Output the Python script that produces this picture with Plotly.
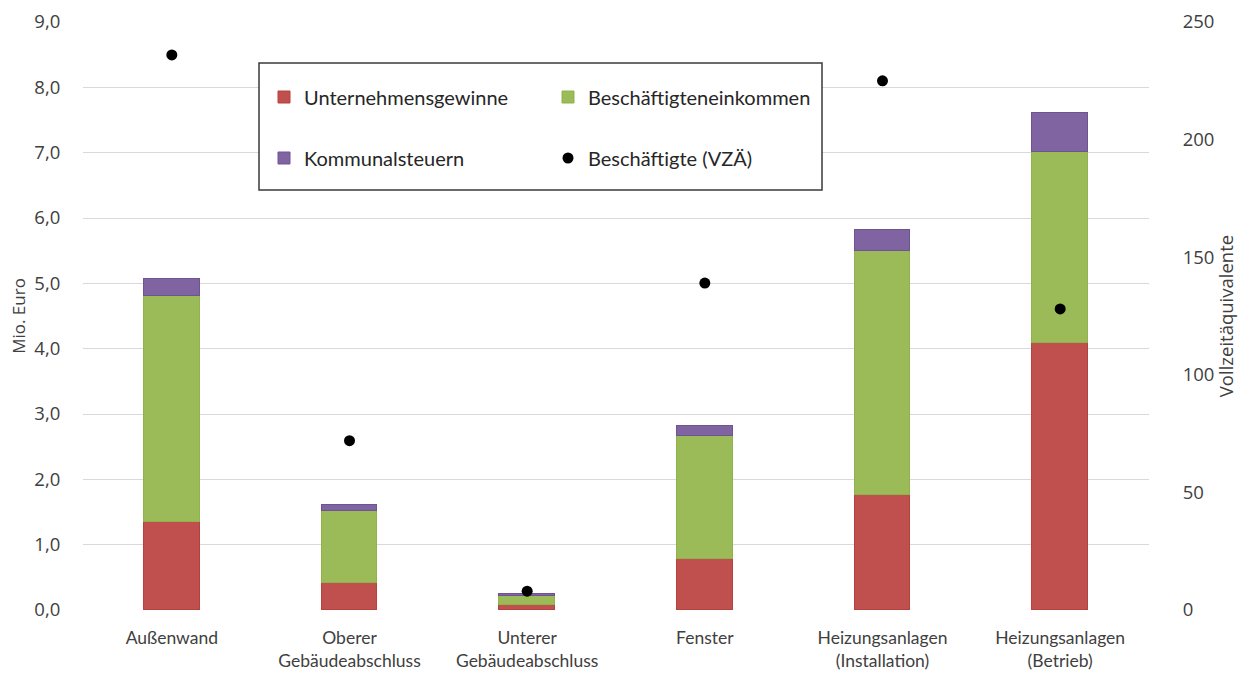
import plotly.graph_objects as go

# Maßnahmenbereiche (x-Achse)
categories = [
    "Außenwand",
    "Oberer<br>Gebäudeabschluss",
    "Unterer<br>Gebäudeabschluss",
    "Fenster",
    "Heizungsanlagen<br>(Installation)",
    "Heizungsanlagen<br>(Betrieb)",
]

# Wertschöpfungsanteile in Mio. Euro (gestapelt)
unternehmensgewinne = [1.34, 0.42, 0.07, 0.78, 1.76, 4.08]
beschaeftigteneinkommen = [3.47, 1.10, 0.14, 1.88, 3.73, 2.93]
kommunalsteuern = [0.26, 0.09, 0.03, 0.16, 0.32, 0.60]

# Beschäftigte in Vollzeitäquivalenten (rechte Achse)
beschaeftigte_vza = [236, 72, 8, 139, 225, 128]

left_ticks = [0, 1, 2, 3, 4, 5, 6, 7, 8, 9]
right_ticks = [0, 50, 100, 150, 200, 250]

W, H = 1238, 677
L, R, T, B = 83, 89, 22, 67

TICK_FONT = dict(family="Open Sans", size=18.5, color="#404040")
TITLE_FONT = dict(family="Open Sans", size=17, color="#404040")
RTITLE_FONT = dict(family="Open Sans", size=18.5, color="#404040")
CAT_FONT = dict(family="Lato", size=17.5, color="#404040")
LEG_FONT = dict(family="Lato", size=20, color="#262626")

BAR_W = 0.315

fig = go.Figure()

fig.add_trace(go.Bar(
    x=categories, y=unternehmensgewinne, name="Unternehmensgewinne",
    width=BAR_W, marker=dict(color="#C0504D", line=dict(color="#B8403D", width=1)),
    legend="legend",
))
fig.add_trace(go.Bar(
    x=categories, y=beschaeftigteneinkommen, name="Beschäftigteneinkommen",
    width=BAR_W, marker=dict(color="#9BBB59", line=dict(color="#8FB24C", width=1)),
    legend="legend",
))
fig.add_trace(go.Bar(
    x=categories, y=kommunalsteuern, name="Kommunalsteuern",
    width=BAR_W, marker=dict(color="#8064A2", line=dict(color="#6F5494", width=1)),
    legend="legend2",
))
fig.add_trace(go.Scatter(
    x=categories, y=beschaeftigte_vza, name="Beschäftigte (VZÄ)",
    mode="markers", yaxis="y2",
    marker=dict(color="#000000", size=11),
    legend="legend2",
))

# Pixel -> Papierkoordinaten des Zeichenbereichs
px0, px1 = L, W - R
py0, py1 = T, H - B
def xp(px):
    return (px - px0) / (px1 - px0)
def yp(py):
    return (py1 - py) / (py1 - py0)

# Rahmen der Legende
fig.add_shape(
    type="rect", xref="paper", yref="paper",
    x0=xp(259), x1=xp(822), y0=yp(190), y1=yp(63),
    fillcolor="#FFFFFF", line=dict(color="#3A3A3A", width=1.5), layer="above",
)

legend_common = dict(
    orientation="h", xref="paper", yref="paper",
    xanchor="left", yanchor="middle",
    entrywidth=239, entrywidthmode="pixels",
    bgcolor="rgba(0,0,0,0)", borderwidth=0, font=LEG_FONT,
    traceorder="normal",
)

fig.update_layout(
    width=W, height=H,
    margin=dict(l=L, r=R, t=T, b=B, autoexpand=False),
    paper_bgcolor="#FFFFFF", plot_bgcolor="#FFFFFF",
    barmode="stack", bargap=0,
    separators=",.",
    showlegend=True,
    legend=dict(x=xp(264), y=yp(97), **legend_common),
    legend2=dict(x=xp(264), y=yp(158), **legend_common),
    xaxis=dict(
        showgrid=False, showline=False, zeroline=False,
        tickfont=CAT_FONT, ticks="outside", ticklen=12,
        tickcolor="rgba(0,0,0,0)",
    ),
    yaxis=dict(
        range=[0, 9], tickvals=left_ticks, tickformat=".1f",
        showgrid=True, gridcolor="#D9D9D9", gridwidth=1,
        zeroline=False, showline=False,
        tickfont=TICK_FONT, ticks="outside", ticklen=18,
        tickcolor="rgba(0,0,0,0)",
        title=dict(text="Mio. Euro", font=TITLE_FONT, standoff=4),
    ),
    yaxis2=dict(
        range=[0, 250], tickvals=right_ticks, overlaying="y", side="right",
        showgrid=False, zeroline=False, showline=False,
        tickfont=TICK_FONT, ticks="outside", ticklen=29,
        tickcolor="rgba(0,0,0,0)",
        title=dict(text="Vollzeitäquivalente", font=RTITLE_FONT, standoff=5),
    ),
)

fig.write_html("out.html")
